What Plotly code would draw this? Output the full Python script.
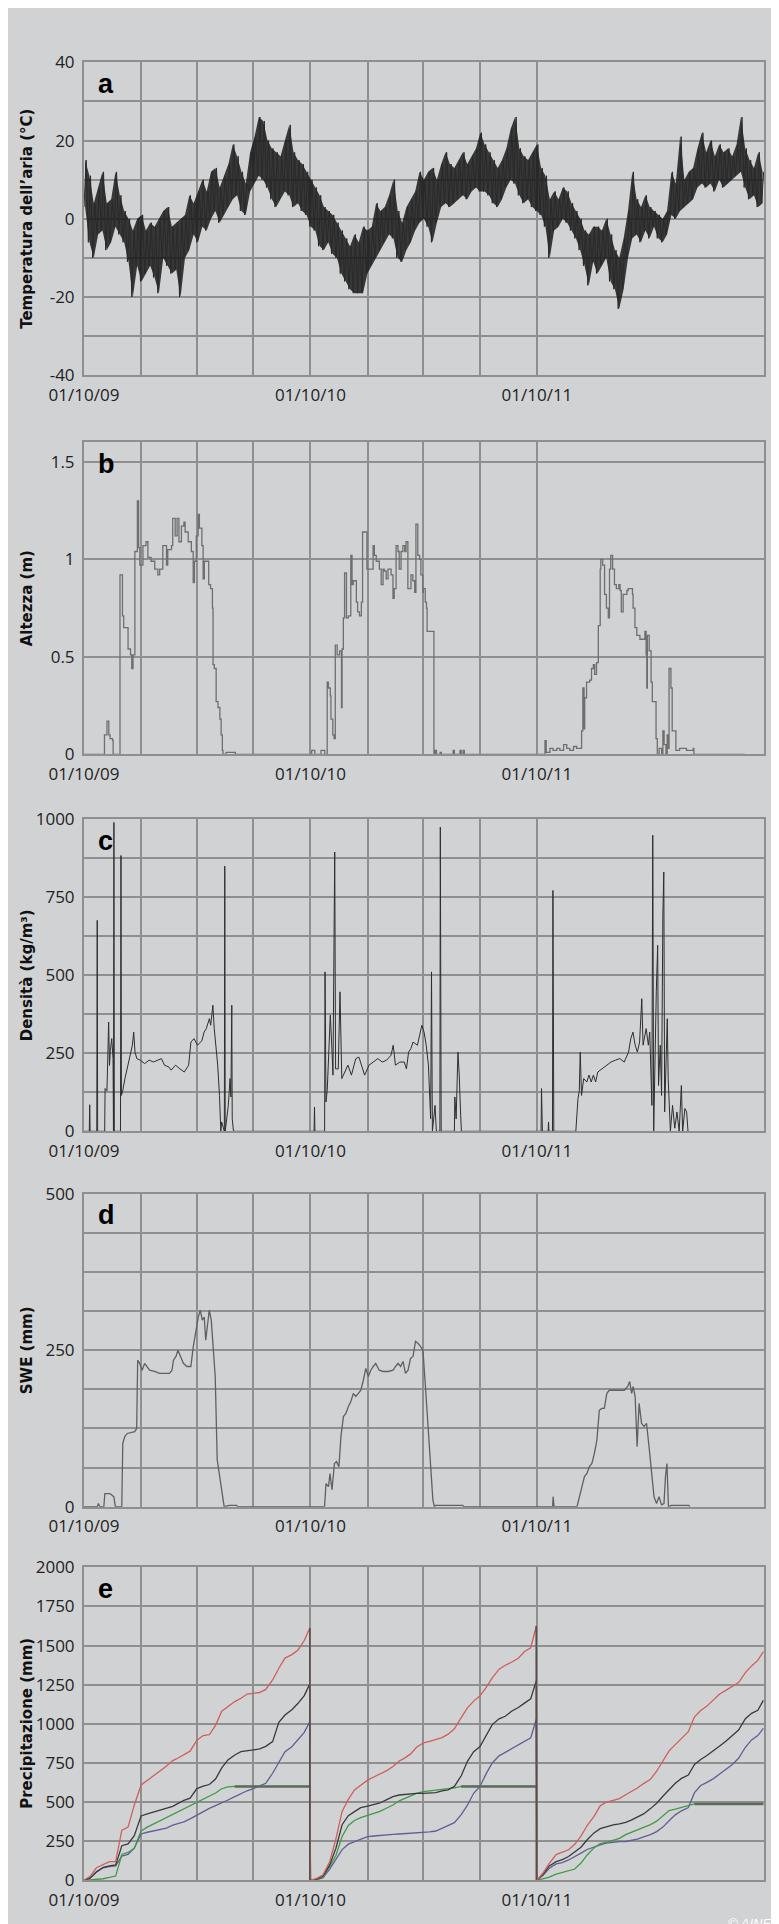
import datetime as dt
import plotly.graph_objects as go

# ---------------- axes / labels ----------------
START = dt.datetime(2009, 10, 1)
END = dt.datetime(2012, 10, 1)
x_tick_dates = ["2009-10-01", "2010-01-01", "2010-04-01", "2010-07-01", "2010-10-01",
                "2011-01-01", "2011-04-01", "2011-07-01", "2011-10-01"]
x_tick_text = ["01/10/09", "", "", "", "01/10/10", "", "", "", "01/10/11"]

panel_letters = ["a", "b", "c", "d", "e"]
y_titles = ["Temperatura dell’aria (°C)", "Altezza (m)", "Densità (kg/m³)", "SWE (mm)", "Precipitazione (mm)"]

temp_ticks = [-40, -30, -20, -10, 0, 10, 20, 30, 40]
temp_ticktext = ["-40", "", "-20", "", "0", "", "20", "", "40"]
snow_ticks = [0, 0.5, 1, 1.5]
snow_ticktext = ["0", "0.5", "1", "1.5"]
dens_ticks = [0, 125, 250, 375, 500, 625, 750, 875, 1000]
dens_ticktext = ["0", "", "250", "", "500", "", "750", "", "1000"]
swe_ticks = [0, 62.5, 125, 187.5, 250, 312.5, 375, 437.5, 500]
swe_ticktext = ["0", "", "", "", "250", "", "", "", "500"]
prec_ticks = [0, 250, 500, 750, 1000, 1250, 1500, 1750, 2000]
prec_ticktext = ["0", "250", "500", "750", "1000", "1250", "1500", "1750", "2000"]

# ---------------- (a) air temperature: weekly band (high / low), deg C ----------------
temp_week_hi = [15, 11, 4, 8, 12, 4, 5, 12, 6, 2, 0, -3, 0, 1,
                -3, -1, -2, 0, 2, 3, -2, -1, 0, 1, 6, 4, 7,
                10, 7, 12, 13, 8, 11, 14, 19, 16, 12, 9, 17, 21,
                26, 25, 20, 18, 17, 16, 20, 24, 17, 15, 14, 12, 10,
                8, 6, 3, 2, 1, -1, -3, -5, -7, -4, -6, -2, -3,
                -2, 4, 2, 3, 6, 10, 2, -1, 3, 5, 7, 12, 10,
                12, 13, 10, 14, 17, 14, 13, 15, 17, 14, 16, 18, 22,
                19, 17, 15, 13, 15, 18, 23, 26, 18, 16, 15, 17, 19,
                13, 11, 5, 7, 5, 8, 7, 4, 2, 0, -3, -4, -2,
                -2, -3, 0, -4, -8, -10, -5, 2, 12, 5, 3, 6, 3,
                2, 1, 0, 2, 12, 9, 21, 10, 12, 13, 18, 22, 17,
                20, 16, 19, 17, 18, 16, 19, 26, 18, 15, 13, 17, 12]
temp_week_lo = [3, -6, -10, -4, -3, -8, -6, -2, -4, -6, -11, -20, -12, -16,
                -14, -12, -15, -19, -10, -12, -14, -13, -20, -10, -8, -4, -6,
                -2, -3, 0, 2, -1, 1, 3, 5, 6, 2, 1, 7, 9,
                11, 10, 8, 5, 3, 5, 7, 6, 3, 4, 2, 1, -2,
                -3, -7, -8, -6, -9, -10, -14, -16, -18, -19, -19, -19, -14,
                -12, -10, -8, -6, -4, -5, -10, -11, -8, -6, -3, -1, 0,
                -2, -6, -1, 3, 4, 3, 4, 5, 6, 5, 7, 8, 7,
                7, 6, 4, 3, 5, 8, 10, 9, 6, 4, 5, 3, 2,
                1, -2, -10, -3, -2, 0, -1, -3, -5, -8, -12, -17, -11,
                -14, -12, -10, -16, -18, -23, -18, -10, -5, -4, -6, -3, -5,
                -2, -5, -6, -4, 1, 0, 2, 3, 4, 5, 8, 9, 8,
                9, 7, 10, 8, 9, 10, 11, 12, 8, 5, 6, 3, 4]

# ---------------- (b) snow height (days since 01/10/09, m) ----------------
snow_day = [0, 32, 33, 37, 40, 42, 46, 47, 58, 62, 64, 70, 71, 75, 77, 79, 82, 86, 88, 90,
            95, 100, 103, 108, 114, 119, 122, 127, 133, 135, 141, 143, 147, 150, 153, 157, 161, 163, 168, 173,
            176, 178, 181, 184, 186, 190, 192, 194, 199, 201, 204, 207, 208, 210, 213, 216, 219, 221, 223, 224,
            229, 243, 244,
            365, 367, 372, 382, 388, 392, 394, 397, 398, 401, 403, 405, 408, 412, 415, 416, 418, 420, 423, 426,
            430, 432, 434, 439, 441, 444, 447, 449, 455, 456, 460, 466, 468, 471, 476, 479, 482, 484, 487, 490,
            495, 498, 500, 503, 506, 508, 511, 514, 517, 519, 522, 525, 527, 530, 533, 535, 538, 541, 543, 546,
            547, 550, 552, 553, 564, 566, 568, 574, 576, 595, 597, 606, 608, 611, 613,
            730, 743, 745, 751, 756, 762, 767, 773, 778, 783, 789, 794, 799, 802, 804, 806, 807, 810, 815, 818,
            821, 823, 826, 829, 832, 833, 836, 839, 842, 845, 847, 849, 852, 855, 858, 862, 864, 866, 869, 872,
            875, 877, 881, 884, 885, 888, 891, 896, 900, 904, 906, 907, 908, 911, 914, 916, 920, 922, 924, 927,
            931, 933, 935, 938, 940, 942, 943, 946, 948, 951, 954, 960, 971, 982, 983, 1065]
snow_m = [0, 0, 0.10, 0.17, 0.10, 0.08, 0.07, 0, 0.92, 0.71, 0.65, 0.65, 0.54, 0.51, 0.44, 0.51, 1.04, 1.30, 1.06, 0.97,
          1.07, 1.09, 1.01, 0.99, 0.95, 0.92, 0.95, 1.07, 0.97, 1.05, 1.07, 1.21, 1.12, 1.21, 1.09, 1.17, 1.19, 1.14, 1.09, 1.04,
          0.88, 0.99, 1.12, 1.23, 1.16, 1.07, 0.90, 0.99, 0.99, 0.87, 0.85, 0.75, 0.46, 0.44, 0.27, 0.24, 0.18, 0.10, 0.02, 0,
          0.01, 0.01, 0,
          0, 0.02, 0, 0.02, 0, 0.37, 0.34, 0.30, 0.18, 0.10, 0.08, 0.56, 0.51, 0.53, 0.24, 0.54, 0.70, 0.93, 0.70, 0.71,
          1.02, 0.87, 0.89, 0.78, 0.73, 0.71, 0.78, 1.14, 1.14, 0.95, 0.95, 1.07, 1.02, 0.99, 0.95, 0.87, 0.95, 0.94, 0.90, 0.95,
          0.92, 0.80, 0.85, 1.07, 1.04, 0.95, 1.04, 1.07, 1.04, 1.09, 0.85, 0.85, 0.92, 0.89, 0.83, 1.18, 1.02, 1.00, 0.92, 0.83,
          0.85, 0.78, 0.75, 0.63, 0, 0.02, 0, 0.01, 0, 0.02, 0, 0.02, 0, 0.02, 0,
          0, 0.07, 0.01, 0.03, 0.02, 0.03, 0.02, 0.05, 0.03, 0.02, 0.04, 0.03, 0.03, 0.12, 0.34, 0.13, 0.29, 0.37, 0.38, 0.44,
          0.46, 0.41, 0.47, 0.66, 0.95, 1.00, 0.97, 0.82, 0.75, 0.70, 0.95, 1.02, 0.95, 0.87, 0.85, 0.87, 0.84, 0.73, 0.82, 0.82,
          0.84, 0.85, 0.85, 0.82, 0.75, 0.65, 0.61, 0.59, 0.59, 0.63, 0.51, 0.34, 0.61, 0.53, 0.37, 0.27, 0.27, 0.08, 0, 0.03,
          0, 0.12, 0.05, 0, 0.10, 0.03, 0.44, 0.34, 0.12, 0.12, 0.02, 0.03, 0.02, 0.03, 0, 0]

# ---------------- (c) snow density (days, kg/m3) ----------------
dens_day = [0, 8.5, 9.2, 9.9, 20.6, 21.3, 22, 33.3, 34, 37, 39.7, 41.1, 42.5, 44.7, 46.8, 47.5, 48.2, 48.9, 58.8, 59.6,
            60.3, 62.4, 66, 69.5, 72.3, 75.2, 78, 80.1, 82.2, 85.1, 90.8, 97.8, 104.9, 112, 119.1, 124.8, 129.7, 136.8, 140.4, 147.5,
            154.6, 161.7, 168.7, 172.3, 177.3, 182.9, 190, 193.6, 197.1, 202.1, 204.2, 207.7, 209.9, 212.7, 215.5, 218.4, 220.5, 221.9, 224, 226.2,
            226.9, 227.6, 232.6, 235.4, 236.8, 238.2, 238.9, 241,
            370.8, 371.5, 372.2, 387.8, 388.5, 390, 392, 394.2, 397, 399.2, 401.3, 404.1, 405.5, 409.8, 412.6, 415.5, 420.4, 425.4, 431, 438.1,
            443.1, 448.8, 452.3, 459.4, 466.5, 473.6, 480.7, 487.8, 494.9, 498.4, 502, 509.1, 516.2, 519.7, 523.2, 526.8, 530.3, 537.4, 541, 544.5,
            548.1, 551.6, 555.1, 558.7, 560.1, 561.5, 565.8, 567.9, 573.6, 574.3, 575.7, 597, 597.7, 599.8, 602.7, 604.8, 606.9, 608.3,
            736.7, 737.4, 738.8, 748, 748.7, 749.4, 755.1, 755.8, 757.2, 792.7, 796.2, 798.3, 799.8, 801.9, 805.4, 810.4, 814, 817.5, 821, 824.6,
            828.1, 835.2, 842.3, 849.4, 856.5, 863.6, 870.7, 877.7, 881.3, 884.8, 888.4, 891.9, 895.5, 899, 901.1, 906.1, 909.6, 911.8, 915.3, 916.7,
            918.2, 920.3, 922.4, 924.6, 926, 928.8, 930.9, 933, 934.5, 935.9, 938, 940.1, 941.6, 945.1, 948.6, 952.2, 955.7, 959.3, 962.8, 964.9,
            968.5, 971.3, 973.5]
dens_kg = [0, 0, 85, 0, 0, 676, 0, 0, 137, 130, 350, 211, 260, 297, 233, 0, 990, 0, 0, 884,
           115, 130, 169, 200, 233, 250, 276, 318, 254, 233, 228, 217, 228, 222, 228, 233, 212, 206, 196, 212,
           200, 190, 212, 286, 297, 276, 290, 318, 329, 361, 340, 404, 330, 276, 212, 115, 0, 30, 10, 0,
           850, 0, 83, 169, 110, 404, 40, 0,
           0, 78, 0, 0, 511, 94, 130, 254, 372, 280, 180, 895, 200, 200, 447, 169, 190, 212, 180, 233,
           238, 200, 180, 212, 222, 233, 222, 228, 244, 276, 212, 222, 222, 200, 254, 265, 286, 276, 308, 340,
           318, 276, 212, 40, 511, 0, 83, 0, 0, 975, 0, 0, 110, 40, 254, 180, 62, 0,
           0, 137, 0, 0, 30, 0, 0, 772, 0, 0, 105, 130, 254, 115, 169, 158, 180, 158, 180, 158,
           190, 200, 212, 222, 228, 233, 222, 254, 297, 318, 276, 254, 286, 425, 276, 329, 276, 318, 83, 949,
           0, 276, 447, 596, 147, 276, 115, 692, 831, 62, 233, 361, 169, 0, 83, 10, 62, 0, 147, 0,
           73, 62, 0]

# ---------------- (d) snow water equivalent (days, mm) ----------------
swe_day = [0, 21.6, 23.2, 25.6, 32, 33.6, 41.7, 48.1, 50.5, 60.9, 62.5, 65.7, 69.7, 81.7, 84.9, 86.5, 89.7, 93.7, 97.7, 105.7,
           113.7, 121.8, 137.8, 141.8, 144.2, 148.2, 151.4, 155.4, 160.2, 165.8, 172.2, 176.2, 180.2, 184.2, 187.4, 190.6, 193.8, 196.2, 199.4, 201.9,
           205.1, 208.3, 211.5, 214.7, 217.9, 221.1, 224.3, 225.9, 233.9, 245.9, 247.5,
           365, 387.7, 390.1, 394.1, 396.5, 399.7, 403.7, 406.9, 410.9, 414.1, 418.1, 422.1, 426.1, 430.1, 434.1, 438.1, 442.2, 446.2, 450.2, 454.2,
           458.2, 462.2, 466.2, 470.2, 475.8, 482.2, 490.2, 498.2, 502.2, 506.2, 510.2, 514.2, 518.2, 522.3, 526.3, 530.3, 534.3, 538.3, 542.3, 546.3,
           550.3, 554.3, 558.3, 562.3, 564.7, 566.3, 610.4, 612,
           730.5, 755.3, 756.1, 757.7, 794.6, 798.6, 806.6, 810.6, 814.6, 818.6, 822.6, 826.6, 830.6, 834.6, 838.6, 842.7, 846.7, 854.7, 870.7, 876.3,
           879.5, 882.7, 885.1, 888.3, 891.5, 894.7, 898.7, 902.7, 906.7, 910.7, 914.7, 918.7, 922.8, 926.8, 930.8, 934.8, 937.2, 939.6, 942, 946.8,
           974.8, 976.4]
swe_mm = [0, 0, 5, 0, 0, 21, 21, 16, 0, 0, 101, 112, 117, 120, 125, 234, 229, 218, 229, 218,
          216, 213, 213, 218, 234, 240, 250, 240, 229, 224, 224, 256, 282, 303, 314, 298, 303, 266, 293, 314,
          298, 256, 208, 75, 53, 32, 3, 0, 2, 2, 0,
          0, 0, 37, 32, 53, 27, 69, 72, 64, 112, 144, 149, 160, 168, 181, 176, 181, 186, 202, 221,
          208, 218, 224, 229, 218, 216, 216, 218, 224, 229, 224, 232, 213, 218, 237, 240, 264, 261, 256, 250,
          192, 128, 75, 11, 0, 2, 2, 0,
          0, 0, 16, 0, 0, 16, 48, 53, 64, 69, 85, 106, 154, 157, 157, 181, 186, 186, 186, 192,
          200, 181, 192, 176, 96, 165, 133, 128, 133, 96, 59, 16, 5, 16, 3, 5, 48, 69, 0, 2,
          2, 0]

# ---------------- (e) cumulative precipitation, dekad values per hydrological year (mm) ----------------
prec_red = [0, 25, 80, 100, 119, 119, 320, 340, 480, 609, 640, 665, 700, 730, 765, 780, 800, 825, 895, 925,
            930, 990, 1080, 1110, 1142, 1163, 1190, 1195, 1200, 1220, 1280, 1355, 1420, 1442, 1472, 1532, 1612,
            0, 12, 34, 119, 265, 440, 517, 577, 607, 640, 660, 680, 701, 727, 762, 779, 806, 850, 878, 888,
            899, 912, 934, 968, 1040, 1102, 1145, 1177, 1231, 1294, 1349, 1374, 1393, 1419, 1462, 1485, 1625,
            0, 48, 108, 164, 178, 195, 230, 282, 350, 408, 476, 499, 511, 522, 547, 566, 590, 618, 645, 697,
            763, 827, 867, 906, 950, 1045, 1085, 1113, 1151, 1189, 1215, 1239, 1263, 1327, 1370, 1405, 1461]
prec_black = [0, 15, 55, 83, 92, 98, 221, 232, 285, 411, 425, 437, 453, 463, 473, 490, 511, 525, 586, 601,
              612, 647, 718, 769, 801, 822, 826, 833, 840, 856, 886, 1010, 1056, 1090, 1131, 1180, 1255,
              0, 8, 28, 98, 205, 355, 413, 439, 464, 474, 485, 494, 515, 535, 545, 549, 552, 555, 556, 558,
              560, 572, 578, 600, 668, 760, 822, 853, 926, 995, 1032, 1048, 1080, 1104, 1132, 1160, 1276,
              0, 40, 92, 119, 132, 152, 183, 211, 259, 303, 330, 342, 354, 361, 370, 385, 405, 424, 458, 492,
              537, 582, 620, 651, 673, 740, 772, 797, 830, 857, 890, 926, 960, 1033, 1067, 1086, 1150]
prec_green = [0, 2, 5, 10, 18, 27, 165, 178, 205, 316, 340, 360, 380, 400, 422, 438, 458, 477, 502, 520,
              540, 558, 585, 597, 600, 600, 600, 600, 600, 600, 600, 600, 600, 600, 600, 600, 600,
              0, 5, 23, 87, 158, 280, 350, 382, 400, 414, 429, 440, 462, 481, 508, 522, 540, 556, 567, 571,
              576, 580, 586, 590, 600, 600, 600, 600, 600, 600, 600, 600, 600, 600, 600, 600, 600,
              0, 10, 20, 40, 51, 60, 72, 110, 162, 207, 234, 243, 254, 268, 292, 306, 320, 338, 356, 378,
              413, 446, 455, 466, 481, 488, 488, 488, 488, 488, 488, 488, 488, 488, 488, 488, 488]
prec_blue = [0, 15, 52, 80, 88, 92, 155, 166, 205, 296, 307, 315, 321, 333, 352, 360, 374, 393, 418, 437,
             460, 477, 493, 513, 535, 555, 572, 586, 601, 620, 684, 758, 822, 854, 897, 945, 1014,
             0, 4, 15, 71, 132, 196, 231, 247, 266, 279, 283, 288, 290, 294, 296, 298, 302, 305, 305, 309,
             315, 332, 350, 368, 420, 480, 556, 598, 680, 750, 795, 818, 838, 865, 890, 910, 1029,
             0, 32, 77, 105, 113, 130, 150, 174, 197, 214, 227, 237, 244, 247, 248, 253, 263, 278, 292, 311,
             340, 380, 418, 444, 465, 560, 606, 626, 648, 678, 710, 740, 780, 850, 897, 925, 971]
hydro_years = [2009, 2010, 2011]

# ---------------- build x values ----------------
def day_to_dt(days):
    return [START + dt.timedelta(days=d) for d in days]

temp_x, temp_y = [], []
for i, (lo, hi) in enumerate(zip(temp_week_lo, temp_week_hi)):
    t0 = START + dt.timedelta(days=7 * i)
    temp_x += [t0, t0 + dt.timedelta(hours=84)]
    temp_y += [lo, hi]
band_x = [START + dt.timedelta(days=7 * i, hours=42) for i in range(len(temp_week_hi))]

prec_dates = []
for y0 in hydro_years:
    for k in range(12):
        m = (9 + k) % 12 + 1
        yr = y0 if m >= 10 else y0 + 1
        for d in (1, 11, 21):
            prec_dates.append(dt.datetime(yr, m, d))
    prec_dates.append(dt.datetime(y0 + 1, 9, 30))
n_per_year = len(prec_dates) // len(hydro_years)

# plateau (end-of-season constant) part of the green series, drawn in grey
plat_x, plat_y = [], []
for k in range(len(hydro_years)):
    seg = prec_green[k * n_per_year:(k + 1) * n_per_year]
    dts = prec_dates[k * n_per_year:(k + 1) * n_per_year]
    final = seg[-1]
    first = seg.index(final)
    plat_x += dts[first:] + [None]
    plat_y += seg[first:] + [None]

# reset lines at end of each hydrological year (except last)
reset_x, reset_y = [], []
for k in range(len(hydro_years) - 1):
    idx = (k + 1) * n_per_year - 1
    top = max(prec_red[idx], prec_black[idx], prec_blue[idx], prec_green[idx])
    reset_x += [prec_dates[idx], prec_dates[idx], None]
    reset_y += [top, 0, None]

# ---------------- figure ----------------
W, H = 779, 1924
BG = "#d1d2d4"
GRID = "#8f8f8f"
panels_px = [(54.3, 367.3), (434.3, 746.3), (811.3, 1123.3), (1185.7, 1498.7), (1559.3, 1872.3)]
XDOM = [76 / W, 756 / W]


def ydom(top, bottom):
    return [1 - bottom / H, 1 - top / H]


tickfont = dict(family="Open Sans, Liberation Sans, sans-serif", size=17, color="#222222")

fig = go.Figure()
# temperature: weekly envelope (shaded) + weekly high/low trace
fig.add_trace(go.Scatter(x=band_x, y=temp_week_lo, mode="lines", line=dict(width=0, color="rgba(0,0,0,0)"),
                         xaxis="x", yaxis="y", showlegend=False, hoverinfo="skip"))
fig.add_trace(go.Scatter(x=band_x, y=temp_week_hi, mode="lines", line=dict(width=0, color="rgba(0,0,0,0)"),
                         fill="tonexty", fillcolor="rgba(12,12,12,0.78)",
                         xaxis="x", yaxis="y", showlegend=False, hoverinfo="skip"))
fig.add_trace(go.Scatter(x=temp_x, y=temp_y, mode="lines", line=dict(color="#2a2a2a", width=1.0),
                         xaxis="x", yaxis="y", showlegend=False, hoverinfo="skip"))
fig.add_trace(go.Scatter(x=day_to_dt(snow_day), y=snow_m, mode="lines", line=dict(color="#6f6f6f", width=1.3, shape="hv"),
                         xaxis="x2", yaxis="y2", showlegend=False))
fig.add_trace(go.Scatter(x=day_to_dt(dens_day), y=dens_kg, mode="lines", line=dict(color="#2e2e2e", width=1),
                         xaxis="x3", yaxis="y3", showlegend=False))
fig.add_trace(go.Scatter(x=day_to_dt(swe_day), y=swe_mm, mode="lines", line=dict(color="#606060", width=1.3),
                         xaxis="x4", yaxis="y4", showlegend=False))
for vals, col in [(prec_blue, "#5f5f95"), (prec_green, "#3f9a47"), (prec_black, "#3a3a3a"), (prec_red, "#cf5f5d")]:
    fig.add_trace(go.Scatter(x=prec_dates, y=vals, mode="lines", line=dict(color=col, width=1.3),
                             xaxis="x5", yaxis="y5", showlegend=False))
fig.add_trace(go.Scatter(x=plat_x, y=plat_y, mode="lines", line=dict(color="#5c6a5c", width=2.5),
                         xaxis="x5", yaxis="y5", showlegend=False))
fig.add_trace(go.Scatter(x=reset_x, y=reset_y, mode="lines", line=dict(color="#505050", width=1.5),
                         xaxis="x5", yaxis="y5", showlegend=False))

yspecs = [([-40, 40], temp_ticks, temp_ticktext), ([0, 1.6], snow_ticks, snow_ticktext),
          ([0, 1000], dens_ticks, dens_ticktext), ([0, 500], swe_ticks, swe_ticktext),
          ([0, 2000], prec_ticks, prec_ticktext)]

layout = dict(width=W, height=H, paper_bgcolor=BG, plot_bgcolor=BG,
              margin=dict(l=0, r=0, t=0, b=0), showlegend=False)
annotations = []
for k, ((top, bot), (yr, tv, tt)) in enumerate(zip(panels_px, yspecs)):
    sx = "" if k == 0 else str(k + 1)
    layout["xaxis" + sx] = dict(type="date", range=[START, END], domain=XDOM, anchor="y" + sx,
                                tickmode="array", tickvals=x_tick_dates, ticktext=x_tick_text,
                                showgrid=True, gridcolor=GRID, gridwidth=1.5, showline=True, linecolor=GRID,
                                linewidth=2, mirror=True, ticks="", zeroline=False, tickfont=tickfont,
                                ticklabelstandoff=3, automargin=False, fixedrange=True)
    layout["yaxis" + sx] = dict(range=yr, domain=ydom(top, bot), anchor="x" + sx,
                                tickmode="array", tickvals=tv, ticktext=tt,
                                showgrid=True, gridcolor=GRID, gridwidth=1.5, showline=True, linecolor=GRID,
                                linewidth=2, mirror=True, ticks="", zeroline=False, tickfont=tickfont,
                                ticklabelstandoff=4, automargin=False, fixedrange=True)
    # panel letter
    baseline = top + 32
    annotations.append(dict(text="<b>%s</b>" % panel_letters[k], x=88.3 / W, y=1 - (baseline + 6.5) / H,
                            xref="paper", yref="paper", xanchor="left", yanchor="bottom", showarrow=False,
                            font=dict(family="Liberation Sans Narrow, Liberation Sans, Arial", size=27, color="#000000")))
    # axis title
    annotations.append(dict(text="<b>%s</b>" % y_titles[k], x=19 / W, y=1 - (top + bot) / 2 / H,
                            xref="paper", yref="paper", xanchor="center", yanchor="middle", textangle=-90,
                            showarrow=False, font=dict(family="DejaVu Sans", size=15, color="#111111")))

annotations.append(dict(text="<i>© AINEV</i>", x=718 / W, y=1 - 1906 / H, xref="paper", yref="paper",
                        xanchor="left", yanchor="top", showarrow=False,
                        font=dict(family="Liberation Sans", size=13, color="#ffffff")))
layout["annotations"] = annotations
fig.update_layout(**layout)

fig.write_html("out.html")
